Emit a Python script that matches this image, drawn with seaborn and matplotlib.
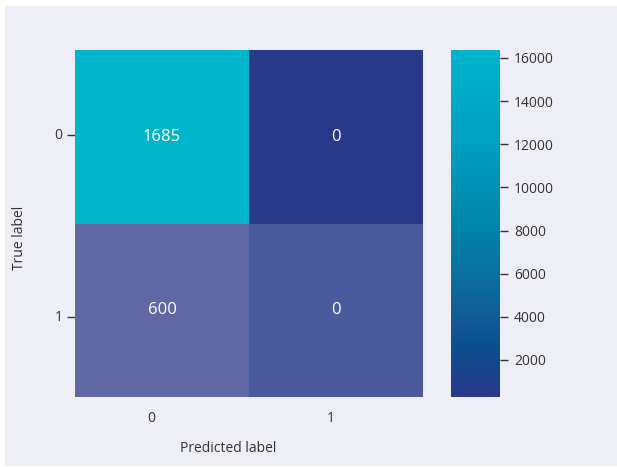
import numpy as np
import pandas as pd
import matplotlib
matplotlib.use("Agg")
import matplotlib.pyplot as plt
from matplotlib.colors import LinearSegmentedColormap, ListedColormap
from matplotlib.patches import Rectangle
import seaborn as sns

# ---- data ----
labels = ["0", "1"]
counts = [[1685, 0], [600, 0]]            # annotated values
top_row_color_values = [16370, 280]        # values driving the colour of the top row
bottom_row_shades = ["#5f67a5", "#4b5a9c"] # bottom row cell colours
cbar_ticks = [2000, 4000, 6000, 8000, 10000, 12000, 14000, 16000]

sns.set_theme(style="dark")
plt.rcParams['font.family'] = ['Open Sans', 'DejaVu Sans']

BG = "#eeeef6"
fig = plt.figure(figsize=(6.17, 4.67), dpi=100, facecolor="white")
fig.patches.append(Rectangle((5/617, 1/467), 612/617, 460/467, transform=fig.transFigure,
                             facecolor=BG, edgecolor="none", zorder=-10))

ax = fig.add_axes([75/617, 1-397/467, 348/617, 347/467])
cax = fig.add_axes([451/617, 1-397/467, 49/617, 347/467])

cmap = LinearSegmentedColormap.from_list("cb", [
    (0.00, "#28388a"),
    (0.15, "#0c4f90"),
    (0.25, "#125f98"),
    (0.35, "#0a70a0"),
    (0.50, "#0085ac"),
    (0.75, "#00a2c2"),
    (1.00, "#00b4cc"),
])

color_df = pd.DataFrame([top_row_color_values, [0, 0]], index=labels, columns=labels)
annot_df = pd.DataFrame(counts, index=labels, columns=labels)
mask_top = np.array([[False, False], [True, True]])
mask_bottom = ~mask_top

vmin, vmax = 280, 16370
sns.heatmap(color_df, mask=mask_top, cmap=cmap, vmin=vmin, vmax=vmax,
            annot=annot_df, fmt="d", annot_kws={"color": "white", "fontsize": 12},
            cbar=True, cbar_ax=cax, ax=ax)

shade_df = pd.DataFrame([[0, 0], [0, 1]], index=labels, columns=labels)
sns.heatmap(shade_df, mask=mask_bottom, cmap=ListedColormap(bottom_row_shades), vmin=0, vmax=1,
            annot=annot_df, fmt="d", annot_kws={"color": "white", "fontsize": 12},
            cbar=False, ax=ax)

ax.set_xticks([0.44, 1.47])
ax.set_xticklabels(labels, fontsize=10, color="#333333")
ax.set_yticks([0.49, 1.54])
ax.set_yticklabels(labels, fontsize=10, color="#333333", rotation=0)
ax.tick_params(axis="x", length=0, pad=10)
ax.tick_params(axis="y", length=6, width=1, color="#333333", left=True, pad=3)
ax.set_xlabel("Predicted label", fontsize=10, color="#333333")
ax.set_ylabel("True label", fontsize=10, color="#333333")
ax.xaxis.set_label_coords(0.44, -0.127)
ax.yaxis.set_label_coords(-0.138, 0.46)

cax.set_yticks(cbar_ticks)
cax.set_yticklabels([str(t) for t in cbar_ticks])
cax.tick_params(axis="y", length=6, width=1, color="#333333", right=True, labelsize=10,
                labelcolor="#333333", pad=4)
for s in cax.spines.values():
    s.set_visible(False)

fig.savefig("out.png", dpi=100, facecolor="white")
